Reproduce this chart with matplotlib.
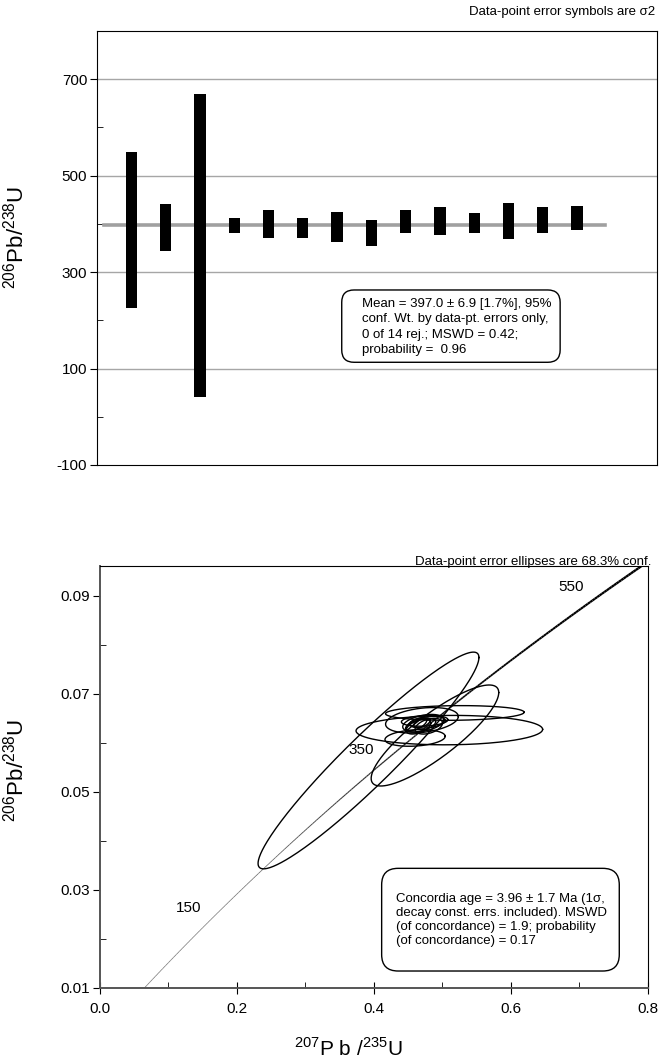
import numpy as np
import matplotlib
matplotlib.use("Agg")
import matplotlib.pyplot as plt
from matplotlib.collections import LineCollection
from matplotlib.patches import FancyBboxPatch
from matplotlib.ticker import MultipleLocator, FixedLocator, FormatStrFormatter

plt.rcParams['font.family'] = ['Liberation Sans', 'DejaVu Sans']
plt.rcParams['mathtext.fontset'] = 'custom'
plt.rcParams['mathtext.rm'] = 'Liberation Sans'
plt.rcParams['axes.unicode_minus'] = False

# ---- top panel: 206Pb/238U ages with 2 sigma error bars ----
spot = np.arange(1, 15)
age_mid = [387, 392, 355.5, 396.5, 400, 392, 393.5, 381.5, 405.5, 406, 402.5, 406, 407.5, 412.5]
age_err = [161, 49, 314.5, 16.5, 29, 21, 31.5, 27.5, 23.5, 29, 20.5, 37, 27.5, 24.5]
mean_age = 397.0

# ---- bottom panel: concordia ellipses (1 sigma, rho) ----
r75 = [0.392, 0.489, 0.518, 0.510, 0.460, 0.470, 0.472, 0.468, 0.478, 0.465, 0.474, 0.462, 0.480, 0.470]
s75 = [0.1063, 0.0614, 0.0667, 0.0898, 0.0290, 0.0350, 0.0198, 0.0145, 0.0172, 0.0119, 0.0224, 0.0099, 0.0132, 0.0079]
r68 = [0.0564, 0.0615, 0.0661, 0.0626, 0.0610, 0.0646, 0.0640, 0.0636, 0.0642, 0.0633, 0.0645, 0.0638, 0.0634, 0.0641]
s68 = [0.01459, 0.0068, 0.00099, 0.00198, 0.00112, 0.00172, 0.00119, 0.00092, 0.00079, 0.00099, 0.00073, 0.00086, 0.00106, 0.00066]
rho = [0.95, 0.85, 0.1, 0.05, 0.2, 0.3, 0.4, 0.5, 0.3, 0.5, 0.2, 0.6, 0.4, 0.5]
age_labels = [150, 350, 550]

L238 = 1.55125e-10
L235 = 9.8485e-10
K683 = np.sqrt(2.30)  # 68.3% conf. for 2 dof

fig = plt.figure(figsize=(6.59, 10.64), dpi=100)

# ================= top panel =================
ax1 = fig.add_axes([0.1472, 0.5630, 0.8498, 0.4079])
ax1.set_xlim(0, 16.33)
ax1.set_ylim(-100, 800)
for g in [100, 300, 500, 700]:
    ax1.axhline(g, color='#a6a6a6', lw=1.0, zorder=1)
ax1.plot([0.2, 14.8], [mean_age, mean_age], color='#a0a0a0', lw=2.6, zorder=2)
lo = np.array(age_mid) - np.array(age_err)
ax1.bar(spot, 2 * np.array(age_err), bottom=lo, width=0.33, color='black', zorder=3)

ax1.set_yticks([-100, 100, 300, 500, 700])
ax1.yaxis.set_minor_locator(FixedLocator([0, 200, 400, 600]))
ax1.tick_params(axis='y', which='major', direction='out', length=5, labelsize=11, pad=2)
ax1.tick_params(axis='y', which='minor', direction='in', length=4)
ax1.set_xticks([])
ax1.set_ylabel(r'$^{206}$Pb/$^{238}$U', fontsize=16)
ax1.yaxis.set_label_coords(-0.123, 0.525)

box1 = FancyBboxPatch((0.437, 0.2366), 0.390, 0.1666, boxstyle='round,pad=0,rounding_size=0.022',
                      mutation_aspect=560 / 434, transform=ax1.transAxes,
                      fc='white', ec='black', lw=1.0, zorder=5)
ax1.add_patch(box1)
ax1.text(0.473, 0.318,
         'Mean = 397.0 \u00b1 6.9 [1.7%], 95%\nconf. Wt. by data-pt. errors only,\n'
         '0 of 14 rej.; MSWD = 0.42;\nprobability =  0.96',
         transform=ax1.transAxes, ha='left', va='center', fontsize=9.5, linespacing=1.36, zorder=6)
fig.text(0.994, 0.9887, 'Data-point error symbols are \u03c32', ha='right', va='center', fontsize=9.5)

# ================= bottom panel =================
ax2 = fig.add_axes([0.1517, 0.0717, 0.8316, 0.3963])
ax2.set_xlim(0, 0.8)
ax2.set_ylim(0.01, 0.0961)

# concordia curve, drawn heavier with increasing age
t = np.linspace(40e6, 650e6, 300)
cx = np.exp(L235 * t) - 1
cy = np.exp(L238 * t) - 1
pts = np.column_stack([cx, cy]).reshape(-1, 1, 2)
segs = np.concatenate([pts[:-1], pts[1:]], axis=1)
frac = np.linspace(0, 1, len(segs))
widths = 0.5 + 1.2 * np.clip((frac - 0.3) / 0.6, 0, 1)
cols = [(g, g, g) for g in 0.45 * (1 - np.clip((frac - 0.2) / 0.5, 0, 1))]
ax2.add_collection(LineCollection(segs, linewidths=widths, colors=cols, zorder=2))

for a in age_labels:
    ta = a * 1e6
    ax2.annotate(str(a), (np.exp(L235 * ta) - 1, np.exp(L238 * ta) - 1),
                 xytext=(-15, 9.7), textcoords='offset points',
                 ha='center', va='center', fontsize=11)

th = np.linspace(0, 2 * np.pi, 300)
for x0, sx, y0, sy, r in zip(r75, s75, r68, s68, rho):
    ex = x0 + K683 * sx * np.cos(th)
    ey = y0 + K683 * sy * (r * np.cos(th) + np.sqrt(1 - r ** 2) * np.sin(th))
    ax2.plot(ex, ey, color='black', lw=1.0, zorder=3)

ax2.set_xticks([0.0, 0.2, 0.4, 0.6, 0.8])
ax2.xaxis.set_minor_locator(MultipleLocator(0.1))
ax2.xaxis.set_major_formatter(FormatStrFormatter('%.1f'))
ax2.set_yticks([0.01, 0.03, 0.05, 0.07, 0.09])
ax2.yaxis.set_minor_locator(FixedLocator([0.02, 0.04, 0.06, 0.08]))
ax2.yaxis.set_major_formatter(FormatStrFormatter('%.2f'))
ax2.tick_params(axis='x', which='major', direction='inout', length=8, labelsize=11, pad=6)
ax2.tick_params(axis='x', which='minor', direction='in', length=4)
ax2.tick_params(axis='y', which='major', direction='out', length=5, labelsize=11, pad=2)
ax2.tick_params(axis='y', which='minor', direction='in', length=4)
ax2.spines['bottom'].set_color('#555555')
ax2.spines['left'].set_color('#555555')
ax2.spines['bottom'].set_linewidth(1.4)
ax2.spines['left'].set_linewidth(1.4)
ax2.set_ylabel(r'$^{206}$Pb/$^{238}$U', fontsize=16)
ax2.yaxis.set_label_coords(-0.131, 0.516)
ax2.set_xlabel(r'$^{207}$P b /$^{235}$U', fontsize=15)
ax2.xaxis.set_label_coords(0.4526, -0.118)

box2 = FancyBboxPatch((0.514, 0.0396), 0.4336, 0.2435, boxstyle='round,pad=0,rounding_size=0.03',
                      mutation_aspect=548 / 421.7, transform=ax2.transAxes,
                      fc='white', ec='black', lw=1.0, zorder=5)
ax2.add_patch(box2)
ax2.text(0.540, 0.1605,
         'Concordia age = 3.96 \u00b1 1.7 Ma (1\u03c3,\ndecay const. errs. included). MSWD\n'
         '(of concordance) = 1.9; probability\n(of concordance) = 0.17',
         transform=ax2.transAxes, ha='left', va='center', fontsize=9.5, linespacing=1.22, zorder=6)
fig.text(0.988, 0.4718, 'Data-point error ellipses are 68.3% conf.', ha='right', va='center', fontsize=9.5)

fig.savefig('out.png', dpi=100)
